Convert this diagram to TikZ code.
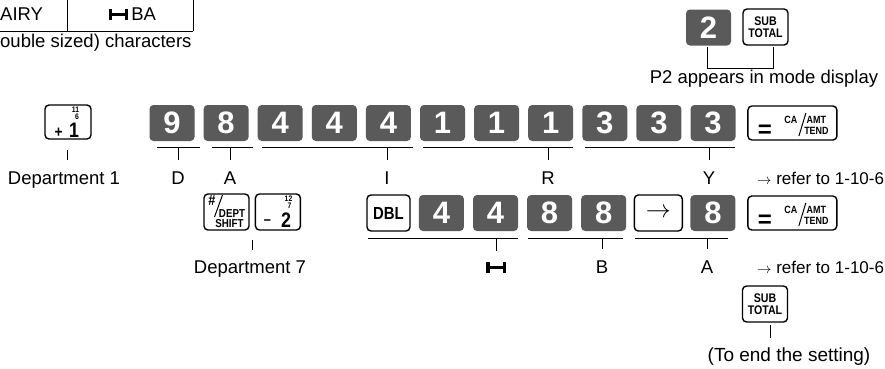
\documentclass[tikz,border=0pt]{standalone}
\usepackage{fontspec}
\setmainfont{Liberation Sans}
\usepackage{graphicx}
\usetikzlibrary{positioning,calc}
\definecolor{keygray}{RGB}{90,90,90}
\tikzset{
  keybase/.style={rectangle,rounded corners=4pt,minimum width=45pt,minimum height=36pt,inner sep=0pt},
  darkkey/.style={keybase,fill=keygray,text=white,font=\fontsize{31}{31}\selectfont\bfseries},
  whitekey/.style={keybase,draw=black,line width=1.4pt,fill=white},
  widekey/.style={whitekey,minimum width=89pt,minimum height=34pt},
  subkey/.style={whitekey,align=center,font=\fontsize{12.5}{11.5}\selectfont},
  keytxt/.style={inner sep=0pt},
  lbl/.style={font=\fontsize{18.5}{21}\selectfont,inner sep=0pt,anchor=base},
  reftxt/.style={font=\fontsize{17}{20}\selectfont,inner sep=0pt,anchor=base west},
  brk/.style={line width=0.9pt},
  slash/.style={line width=1pt}
}
\newcommand{\kt}[2]{\scalebox{0.85}[1]{\fontsize{#1}{#1}\selectfont\bfseries #2}}
\newcommand{\dblmark}{\rule{3.2pt}{11pt}\rule[3.8pt]{13pt}{3.4pt}\rule{3.2pt}{11pt}}
\newcommand{\refarrow}{{\fontsize{15}{15}\selectfont$\rightarrow$}}
\newcommand{\cakey}[2]{%
  \node[widekey,#2] (#1) {};
  \node[keytxt] (#1eq) at ([xshift=-27.5pt,yshift=-8pt]#1.center) {\fontsize{24}{24}\selectfont\bfseries =};
  \node[keytxt] (#1ca) at ([xshift=-1.5pt,yshift=3.5pt]#1.center) {\kt{10.5}{CA}};
  \draw[slash] ([xshift=13.5pt,yshift=10pt]#1.center) -- ([xshift=6.5pt,yshift=-13pt]#1.center);
  \node[keytxt] (#1amt) at ([xshift=24pt,yshift=3.5pt]#1.center) {\kt{10.5}{AMT}};
  \node[keytxt] (#1tend) at ([xshift=24pt,yshift=-8pt]#1.center) {\kt{10.5}{TEND}};
}

\begin{document}
\begin{tikzpicture}[x=1pt,y=-1pt]
  \useasboundingbox (0,0) rectangle (885,368);

  % table of characters (cut at the top)
  \draw[brk] (0,31) -- (193,31) (67,0) -- (67,31) (193,0) -- (193,31);
  \node[lbl,anchor=base west] (tdairy) at (0,20) {AIRY};
  \node[lbl] (thba) at (132.5,20) {\dblmark\,BA};
  \node[lbl,anchor=base west] (tnote) at (0,47) {ouble sized) characters};

  % mode display
  \node[darkkey] (p2) at (708.5,27.5) {2};
  \node[subkey] (sub1) at (765.5,27) {\kt{12.5}{SUB}\\\kt{12.5}{TOTAL}};
  \draw[brk] (707,47) -- (707,68) -- (773,68) -- (773,47);
  \node[lbl] (lp2) at (764,83) {P2 appears in mode display};

  % row 1
  \node[whitekey,minimum width=46pt,minimum height=34pt] (dep1) at (68,122) {};
  \node[keytxt] (dep1a) at (75.5,109.5) {\kt{8}{11}};
  \node[keytxt] (dep1b) at (77,116.5) {\kt{8}{6}};
  \node[keytxt] (dep1c) at (58.5,133) {\kt{16}{+}};
  \node[keytxt] (dep1d) at (74,130.5) {\kt{21}{1}};
  \draw[brk] (67,150) -- (67,160);
  \node[lbl] (ldep1) at (64,184) {Department 1};

  \node[darkkey] (k1) at (172,123) {9};
  \node[darkkey,right=8.7pt of k1] (k2) {8};
  \node[darkkey,right=8.7pt of k2] (k3) {4};
  \node[darkkey,right=8.7pt of k3] (k4) {4};
  \node[darkkey,right=8.7pt of k4] (k5) {4};
  \node[darkkey,right=8.7pt of k5] (k6) {1};
  \node[darkkey,right=8.7pt of k6] (k7) {1};
  \node[darkkey,right=8.7pt of k7] (k8) {1};
  \node[darkkey,right=8.7pt of k8] (k9) {3};
  \node[darkkey,right=8.7pt of k9] (k10) {3};
  \node[darkkey,right=8.7pt of k10] (k11) {3};
  \cakey{ca1}{right=11.5pt of k11}

  \draw[brk] (157,147) -- (200,147);
  \draw[brk] (212,147) -- (253,147);
  \draw[brk] (262,147) -- (413,147);
  \draw[brk] (423,147) -- (573,147);
  \draw[brk] (585,147) -- (735,147);
  \node[lbl] (lD) at (178,184) {D};
  \node[lbl] (lA) at (230,184) {A};
  \node[lbl] (lI) at (387,184) {I};
  \node[lbl] (lR) at (548,184) {R};
  \node[lbl] (lY) at (709,184) {Y};
  \draw[brk] (178,147) -- ([yshift=11pt]lD.north);
  \draw[brk] (230,147) -- ([yshift=11pt]lA.north);
  \draw[brk] (387,147) -- ([yshift=11pt]lI.north);
  \draw[brk] (548,147) -- ([yshift=11pt]lR.north);
  \draw[brk] (709,147) -- ([yshift=11pt]lY.north);
  \node[reftxt] (ref1) at (757,184) {\refarrow\ refer to 1-10-6};

  % row 2
  \node[whitekey] (shift) at (226.5,212) {};
  \node[keytxt] (shifta) at (212,200.5) {\kt{15}{\#}};
  \draw[slash] (222.5,195) -- (214.5,217);
  \node[keytxt] (shiftb) at (232,214) {\kt{11.5}{DEPT}};
  \node[keytxt] (shiftc) at (229.5,224) {\kt{11.5}{SHIFT}};
  \node[whitekey,right=5pt of shift] (dep7) {};
  \node[keytxt] (dep7a) at (288.5,198.5) {\kt{8}{12}};
  \node[keytxt] (dep7b) at (289.5,205.5) {\kt{8}{7}};
  \node[keytxt] (dep7c) at (267.5,222) {\kt{15}{–}};
  \node[keytxt] (dep7d) at (286,220) {\kt{21}{2}};
  \draw[brk] (252,240) -- (252,250);
  \node[lbl] (ldep7) at (250,273) {Department 7};

  \node[whitekey,minimum width=43pt] (dbl) at (388.5,213) {\kt{17.5}{DBL}};
  \node[darkkey,right=8pt of dbl] (m1) {4};
  \node[darkkey,right=8.7pt of m1] (m2) {4};
  \node[darkkey,right=8.7pt of m2] (m3) {8};
  \node[darkkey,right=8.7pt of m3] (m4) {8};
  \node[whitekey,minimum width=48pt,right=7.2pt of m4,font=\fontsize{24}{24}\selectfont] (arw) {$\rightarrow$};
  \node[darkkey,right=7.2pt of arw] (m5) {8};
  \cakey{ca2}{right=11.5pt of m5}

  \draw[brk] (368,238) -- (518,238);
  \draw[brk] (528,238) -- (623,238);
  \draw[brk] (635,238) -- (728,238);
  \node[lbl] (lH) at (496,273) {\dblmark};
  \node[lbl] (lB) at (602,273) {B};
  \node[lbl] (lA2) at (707,273) {A};
  \draw[brk] (496,238) -- ([yshift=11pt]lH.north);
  \draw[brk] (602,238) -- ([yshift=11pt]lB.north);
  \draw[brk] (707,238) -- ([yshift=11pt]lA2.north);
  \node[reftxt] (ref2) at (757,273) {\refarrow\ refer to 1-10-6};

  % end of setting
  \node[subkey] (sub2) at (765,304) {\kt{12.5}{SUB}\\\kt{12.5}{TOTAL}};
  \draw[brk] (770,325) -- (770,338);
  \node[lbl,font=\fontsize{19}{21}\selectfont] (lend) at (789,361) {(To end the setting)};
\end{tikzpicture}
\end{document}
